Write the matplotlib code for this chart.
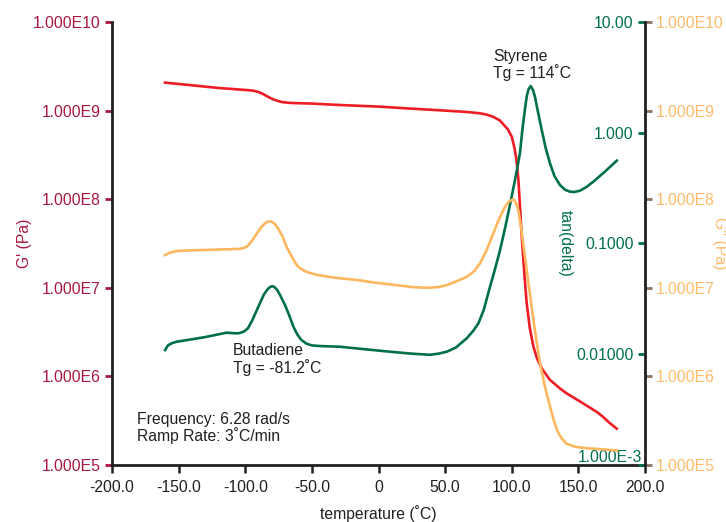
import matplotlib
matplotlib.use("Agg")
import matplotlib.pyplot as plt
from matplotlib.ticker import NullLocator

plt.rcParams["font.family"] = ["Liberation Sans", "DejaVu Sans"]
plt.rcParams["font.size"] = 11.3

# Storage modulus G' (Pa)
t_storage = [-160.2, -140, -120, -100, -94, -90, -87, -84, -80, -76, -72, -66, -50,
             -28.9, 0, 21, 45, 66, 76, 81, 86, 91, 94, 97, 100, 102, 103.5, 105,
             107.5, 109.5, 111.2, 113.5, 116.2, 119, 123, 128.7, 136, 141, 152,
             163.7, 168, 173, 178.8]
g_storage = [2.07e9, 1.93e9, 1.80e9, 1.71e9, 1.68e9, 1.62e9, 1.55e9, 1.46e9, 1.36e9,
             1.29e9, 1.245e9, 1.22e9, 1.20e9, 1.156e9, 1.11e9, 1.06e9, 1.01e9, 9.66e8,
             9.33e8, 9.02e8, 8.51e8, 7.76e8, 6.92e8, 6.17e8, 5.08e8, 3.80e8, 2.82e8,
             1.66e8, 3.80e7, 1.41e7, 6.76e6, 3.55e6, 2.19e6, 1.585e6, 1.20e6, 9.12e5,
             7.35e5, 6.46e5, 5.13e5, 3.98e5, 3.55e5, 3.02e5, 2.57e5]

# Loss modulus G'' (Pa)
t_loss = [-160.2, -157, -151.5, -140, -120, -104, -100, -97.7, -94, -91, -88, -85,
          -82.7, -80, -77.7, -75, -72, -68.9, -65, -62, -58.9, -54, -46.4, -36,
          -28.9, -15, -3.9, 13.7, 25, 36.2, 45, 51.2, 58, 66.2, 72, 76.2, 81, 86.2,
          90, 94.9, 98, 101.2, 103, 104.9, 107, 109.9, 113, 116.2, 118.7, 121.2,
          125, 128.7, 132, 135, 138, 141, 148, 156, 166, 179]
g_loss = [2.34e7, 2.48e7, 2.60e7, 2.65e7, 2.70e7, 2.75e7, 2.85e7, 3.02e7, 3.55e7,
          4.17e7, 4.84e7, 5.37e7, 5.62e7, 5.56e7, 5.25e7, 4.57e7, 3.80e7, 2.88e7,
          2.24e7, 1.86e7, 1.66e7, 1.51e7, 1.40e7, 1.32e7, 1.28e7, 1.22e7, 1.15e7,
          1.07e7, 1.02e7, 1.00e7, 1.02e7, 1.07e7, 1.175e7, 1.33e7, 1.55e7, 1.89e7,
          2.63e7, 4.12e7, 5.75e7, 8.22e7, 9.44e7, 1.00e8, 9.23e7, 7.59e7, 4.79e7,
          2.24e7, 1.00e7, 4.37e6, 2.45e6, 1.41e6, 7.59e5, 4.57e5, 3.02e5, 2.29e5,
          1.95e5, 1.74e5, 1.60e5, 1.55e5, 1.51e5, 1.46e5]

# Loss tangent tan(delta)
t_tan = [-160.2, -158, -155, -151.5, -140, -130, -120, -114, -109, -105, -101, -98,
         -95, -92, -89, -86, -83, -81, -79.5, -78, -76, -73.9, -70, -67, -63.9, -61,
         -58, -54, -50, -44, -29, -10, 8.6, 25, 38.6, 45, 51.2, 58, 66.2, 71, 75, 79,
         83, 87, 91, 95, 98, 101.2, 104, 106.2, 108, 110, 111.2, 112.5, 114.2,
         115.8, 117.4, 120, 122.5, 125.5, 128.7, 132, 136.2, 140, 143.7, 147, 151.2,
         156, 161.2, 170, 178.8]
tan_delta = [0.01091, 0.01202, 0.01259, 0.01297, 0.01365, 0.01429, 0.01514, 0.01567,
             0.01549, 0.01545, 0.01603, 0.01714, 0.01995, 0.02399, 0.02884, 0.03467,
             0.03890, 0.04074, 0.04121, 0.04027, 0.03802, 0.03428, 0.02754, 0.02239,
             0.01778, 0.01514, 0.01349, 0.01245, 0.01202, 0.01186, 0.01169, 0.01109,
             0.01054, 0.01012, 0.00989, 0.01012, 0.01054, 0.01148, 0.01393, 0.01622,
             0.01905, 0.02512, 0.03802, 0.05623, 0.08511, 0.1380, 0.2042, 0.3162,
             0.4677, 0.6607, 1.072, 1.660, 2.118, 2.455, 2.642, 2.455, 2.118, 1.479,
             1.059, 0.7244, 0.5297, 0.4074, 0.3373, 0.3055, 0.2938, 0.2917, 0.2999,
             0.3236, 0.3614, 0.4467, 0.5598]

x_ticks = [-200, -150, -100, -50, 0, 50, 100, 150, 200]
x_tick_labels = ["-200.0", "-150.0", "-100.0", "-50.0", "0", "50.0", "100.0", "150.0", "200.0"]
mod_ticks = [1e5, 1e6, 1e7, 1e8, 1e9, 1e10]
mod_tick_labels = ["1.000E5", "1.000E6", "1.000E7", "1.000E8", "1.000E9", "1.000E10"]
tan_ticks = [1e-3, 1e-2, 1e-1, 1, 10]
tan_tick_labels = ["1.000E-3", "0.01000", "0.1000", "1.000", "10.00"]

RED = "#ee1c25"
RED_TEXT = "#a8173f"
GREEN = "#00704a"
ORANGE = "#fdb75e"
ORANGE_TEXT = "#fdbb6b"
BROWN = "#8b7260"
INK = "#231f20"

W, H = 726, 522
fig = plt.figure(figsize=(W / 100, H / 100), dpi=100)
L, R, B, T = 112, 645, 465, 22
ax = fig.add_axes([L / W, 1 - B / H, (R - L) / W, (B - T) / H])
ax_tan = ax.twinx()
ax_loss = ax.twinx()

# left axis: storage modulus
ax.set_xlim(-200, 200)
ax.set_yscale("log")
ax.set_ylim(1e5, 1e10)
ax.set_yticks(mod_ticks, mod_tick_labels)
ax.yaxis.set_minor_locator(NullLocator())
ax.set_xticks(x_ticks, x_tick_labels)
ax.tick_params(axis="y", direction="out", length=5, width=2, color=RED_TEXT,
               labelcolor=RED_TEXT, pad=3)
ax.tick_params(axis="x", direction="out", length=6, width=1.8, color=INK,
               labelcolor=INK, pad=5)
for side in ("left", "bottom"):
    ax.spines[side].set_linewidth(2)
    ax.spines[side].set_color(INK)
ax.spines["top"].set_visible(False)
ax.spines["right"].set_visible(False)
ax.set_ylabel("G' (Pa)", color=RED_TEXT, rotation=90, ha="center", va="center")
ax.yaxis.set_label_coords((25 - L) / (R - L), 0.5)
ax.set_xlabel("temperature (˚C)", color=INK, labelpad=7)

ax.plot(t_storage, g_storage, color=RED, lw=1.9, solid_joinstyle="round")

# inner right axis: tan(delta), labels inside the frame
ax_tan.set_yscale("log")
ax_tan.set_ylim(1e-3, 10)
ax_tan.set_yticks(tan_ticks, tan_tick_labels)
ax_tan.yaxis.set_minor_locator(NullLocator())
ax_tan.tick_params(axis="y", direction="in", length=5, width=2, color=GREEN,
                   labelcolor=GREEN, pad=-8.3)
for side in ax_tan.spines:
    ax_tan.spines[side].set_visible(False)
tan_major = ax_tan.yaxis.get_major_ticks()
for tk in tan_major:
    tk.label2.set_horizontalalignment("right")
tan_major[0].label2.set_verticalalignment("bottom")
tan_major[0].label2.set_x(1 + 8.5 / (R - L))
ax_tan.set_ylabel("tan(delta)", color=GREEN, rotation=270, ha="center", va="center")
ax_tan.yaxis.set_label_coords((565 - L) / (R - L), 0.5)
ax_tan.plot(t_tan, tan_delta, color=GREEN, lw=1.9, solid_joinstyle="round")

# outer right axis: loss modulus
ax_loss.set_yscale("log")
ax_loss.set_ylim(1e5, 1e10)
ax_loss.set_yticks(mod_ticks, mod_tick_labels)
ax_loss.yaxis.set_minor_locator(NullLocator())
ax_loss.tick_params(axis="y", direction="out", length=5, width=2, color=BROWN,
                    labelcolor=ORANGE_TEXT, pad=3)
for side in ("left", "top", "bottom"):
    ax_loss.spines[side].set_visible(False)
ax_loss.spines["right"].set_linewidth(2)
ax_loss.spines["right"].set_color(INK)
ax_loss.set_ylabel("G'' (Pa)", color=ORANGE_TEXT, rotation=270, ha="center", va="center")
ax_loss.yaxis.set_label_coords((720 - L) / (R - L), 0.5)
ax_loss.plot(t_loss, g_loss, color=ORANGE, lw=1.9, solid_joinstyle="round")

# annotations
ax.text(86, 10 ** 9.515, "Styrene\nTg = 114˚C", color=INK, ha="left", va="center",
        linespacing=1.05)
ax.text(-109.2, 10 ** 6.19, "Butadiene\nTg = -81.2˚C", color=INK, ha="left", va="center",
        linespacing=1.05)
ax.text(-181.2, 10 ** 5.418, "Frequency: 6.28 rad/s\nRamp Rate: 3˚C/min", color=INK,
        ha="left", va="center", linespacing=1.05)

fig.savefig("out.png", dpi=100)
